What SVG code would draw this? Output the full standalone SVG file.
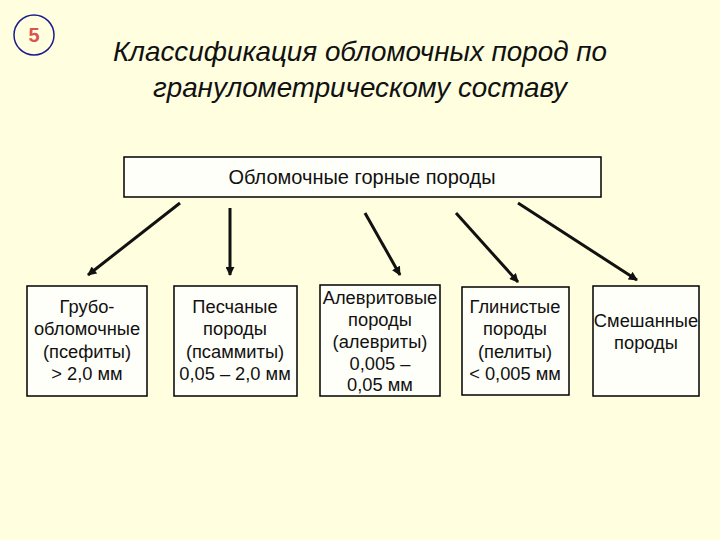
<svg xmlns="http://www.w3.org/2000/svg" width="720" height="540" viewBox="0 0 720 540">
<defs>
<marker id="ah" viewBox="0 0 10 10" refX="9" refY="5" markerWidth="3.2" markerHeight="3" orient="auto" markerUnits="strokeWidth">
<path d="M0,0 L10,5 L0,10 z" fill="#111"/>
</marker>
<style>
.bx{fill:#fffffa;stroke:#000;stroke-width:1.5}
.t{font-family:"Liberation Sans",Arial,sans-serif;font-size:18.3px;fill:#111;text-anchor:middle}
.ttl{font-family:"Liberation Sans",Arial,sans-serif;font-size:27.8px;font-style:italic;fill:#111;text-anchor:middle}
.c{stroke:#111;stroke-width:3;fill:none;marker-end:url(#ah)}
</style>
</defs>
<rect width="720" height="540" fill="#ffffdf"/>
<g id="badge">
<circle cx="34" cy="35" r="20" fill="none" stroke="#1c1c90" stroke-width="1.5"/>
<text x="34" y="42" font-family="Liberation Sans,Arial,sans-serif" font-size="20" font-weight="bold" fill="#d9534f" text-anchor="middle">5</text>
</g>
<g id="title">
<text class="ttl" x="360" y="61">Классификация обломочных пород по</text>
<text class="ttl" x="360" y="97">гранулометрическому составу</text>
</g>
<g id="root">
<rect class="bx" x="124" y="157" width="477" height="40"/>
<text class="t" x="362" y="184" style="font-size:20px">Обломочные горные породы</text>
</g>
<g id="connectors">
<line class="c" x1="180" y1="203" x2="88" y2="275"/>
<line class="c" x1="230" y1="208" x2="230" y2="275"/>
<line class="c" x1="365" y1="213" x2="400" y2="275"/>
<line class="c" x1="456" y1="213" x2="518" y2="282"/>
<line class="c" x1="518" y1="203" x2="637" y2="280"/>
</g>
<g id="n1">
<rect class="bx" x="27" y="286" width="120" height="110"/>
<text class="t" x="87" y="313">Грубо-</text>
<text class="t" x="87" y="335">обломочные</text>
<text class="t" x="87" y="358">(псефиты)</text>
<text class="t" x="87" y="380">&gt; 2,0 мм</text>
</g>
<g id="n2">
<rect class="bx" x="174" y="286" width="123" height="110"/>
<text class="t" x="235" y="313">Песчаные</text>
<text class="t" x="235" y="335">породы</text>
<text class="t" x="235" y="358">(псаммиты)</text>
<text class="t" x="235" y="380">0,05 – 2,0 мм</text>
</g>
<g id="n3">
<rect class="bx" x="320" y="285" width="120" height="111"/>
<text class="t" x="380" y="304">Алевритовые</text>
<text class="t" x="380" y="326">породы</text>
<text class="t" x="380" y="348">(алевриты)</text>
<text class="t" x="380" y="370">0,005 –</text>
<text class="t" x="380" y="391">0,05 мм</text>
</g>
<g id="n4">
<rect class="bx" x="462" y="287" width="107" height="108"/>
<text class="t" x="515" y="313">Глинистые</text>
<text class="t" x="515" y="335">породы</text>
<text class="t" x="515" y="358">(пелиты)</text>
<text class="t" x="515" y="380">&lt; 0,005 мм</text>
</g>
<g id="n5">
<rect class="bx" x="593" y="286" width="106" height="110"/>
<text class="t" x="646" y="327">Смешанные</text>
<text class="t" x="646" y="349">породы</text>
</g>
</svg>
